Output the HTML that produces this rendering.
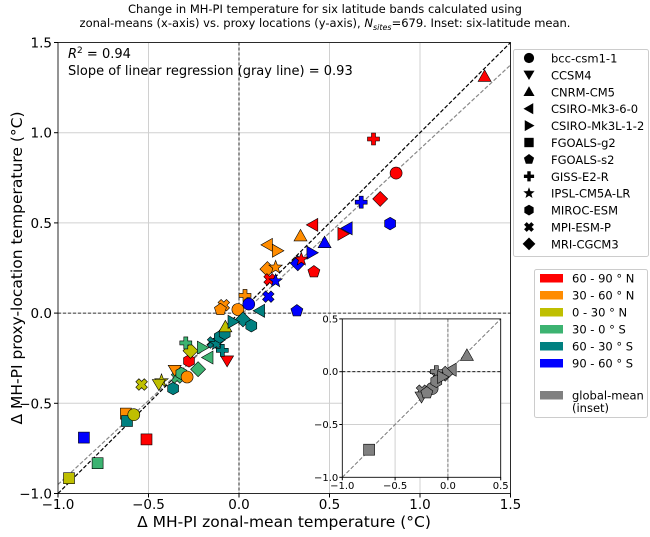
<!DOCTYPE html>
<html><head><meta charset="utf-8"><style>
body{margin:0;background:#fff}
svg text{font-family:"DejaVu Sans","Liberation Sans",sans-serif}
</style></head><body>
<svg id="c" width="650" height="532" viewBox="0 0 650 532" xmlns="http://www.w3.org/2000/svg">
<text x="325" y="13" font-size="11.5" text-anchor="middle">Change in MH-PI temperature for six latitude bands calculated using</text>
<text x="325" y="27" font-size="11.5" text-anchor="middle">zonal-means (x-axis) vs. proxy locations (y-axis), <tspan font-style="italic">N</tspan><tspan font-style="italic" font-size="8" dy="3">sites</tspan><tspan dy="-3">=679. Inset: six-latitude mean.</tspan></text>
<g id="main"></g>
<g id="inset"></g>
<g id="leg"></g>
</svg>
<script>
const NS="http://www.w3.org/2000/svg";
const modelNames=["bcc-csm1-1","CCSM4","CNRM-CM5","CSIRO-Mk3-6-0","CSIRO-Mk3L-1-2","FGOALS-g2","FGOALS-s2","GISS-E2-R","IPSL-CM5A-LR","MIROC-ESM","MPI-ESM-P","MRI-CGCM3"];
const bandNames=["60 - 90 \u00b0 N","30 - 60 \u00b0 N"," 0 - 30 \u00b0 N","30 -  0 \u00b0 S","60 - 30 \u00b0 S","90 - 60 \u00b0 S"];
const bandColors=["#ff0000","#ff8c00","#bfbf00","#3cb371","#008080","#0000ff"];
// main scatter: model index, band index, x, y
const ptModel=[2,7,0,11,7,9,3,3,4,2,2,3,4,4,11,8,11,8,6,10,8,7,10,0,10,6,0,3,6,11,9,
5,5,5,5,5,5,0,10,8,1,9,10,1,9,0,9,11,11,7,4,3,1,10,8,7,9,9,2,4];
const ptBand=[0,0,0,0,5,5,0,5,0,1,5,1,1,5,5,0,1,1,0,0,5,1,5,5,1,1,1,4,5,4,4,
5,0,3,2,1,4,2,2,2,2,4,3,1,3,1,0,3,2,3,3,3,0,4,4,4,4,4,2,4];
const ptX=[1.357,0.743,0.868,0.78,0.675,0.835,0.408,0.598,0.574,0.34,0.473,0.157,0.212,0.403,0.325,0.344,0.157,0.202,0.414,0.169,0.202,0.033,0.162,0.054,-0.084,-0.103,-0.006,0.114,0.32,0.022,0.068,
-0.857,-0.511,-0.781,-0.939,-0.625,-0.619,-0.581,-0.538,-0.428,-0.443,-0.364,-0.342,-0.355,-0.318,-0.287,-0.276,-0.226,-0.268,-0.294,-0.202,-0.171,-0.066,-0.143,-0.125,-0.092,-0.106,-0.079,-0.075,-0.033];
const ptY=[1.312,0.965,0.776,0.633,0.615,0.496,0.489,0.47,0.439,0.428,0.39,0.378,0.346,0.335,0.276,0.298,0.244,0.254,0.229,0.187,0.178,0.098,0.091,0.05,0.044,0.02,0.02,0.013,0.013,-0.035,-0.07,
-0.69,-0.7,-0.832,-0.915,-0.557,-0.598,-0.563,-0.396,-0.376,-0.396,-0.418,-0.357,-0.317,-0.335,-0.354,-0.265,-0.311,-0.209,-0.165,-0.191,-0.246,-0.265,-0.163,-0.17,-0.206,-0.132,-0.113,-0.076,-0.048];
// inset (global mean) per model
const inModel=[2,3,11,8,7,0,9,10,1,6,4,5];
const inX=[0.18,0.031,-0.026,-0.11,-0.11,-0.15,-0.11,-0.245,-0.25,-0.2,-0.05,-0.746];
const inY=[0.154,0.019,-0.019,-0.026,0.0,-0.16,-0.09,-0.18,-0.24,-0.2,-0.05,-0.739];
const ticks=[-1.0,-0.5,0.0,0.5,1.0,1.5];
const inTicks=[-1.0,-0.5,0.0,0.5];
const slope=0.93, intercept=-0.02;

function el(t,a,p){const e=document.createElementNS(NS,t);for(const k in a)e.setAttribute(k,a[k]);p.appendChild(e);return e;}
const X=v=>58+(v+1)*181;
const Y=v=>493.5-(v+1)*180.4;
const IX=v=>342.3+(v+1)*105.6;
const IY=v=>477.3-(v+1)*105.6;

function poly(n,r,rot){let s=[];for(let i=0;i<n;i++){const a=rot+i*2*Math.PI/n;s.push((r*Math.cos(a)).toFixed(2)+","+(r*Math.sin(a)).toFixed(2));}return s.join(" ");}
function star(r){let s=[];for(let i=0;i<10;i++){const rr=i%2?r*0.42:r;const a=-Math.PI/2+i*Math.PI/5;s.push((rr*Math.cos(a)).toFixed(2)+","+(rr*Math.sin(a)).toFixed(2));}return s.join(" ");}
function shape(m,k){
  switch(m){
    case 0:return['circle',{r:6*k}];
    case 1:return['polygon',{points:`0,${6*k} ${-6.5*k},${-5*k} ${6.5*k},${-5*k}`}];
    case 2:return['polygon',{points:`0,${-6.5*k} ${-6.5*k},${5*k} ${6.5*k},${5*k}`}];
    case 3:return['polygon',{points:`${-6.5*k},0 ${5*k},${-6.5*k} ${5*k},${6.5*k}`}];
    case 4:return['polygon',{points:`${6.5*k},0 ${-5*k},${-6.5*k} ${-5*k},${6.5*k}`}];
    case 5:return['rect',{x:-5.5*k,y:-5.5*k,width:11*k,height:11*k}];
    case 6:return['polygon',{points:poly(5,6.3*k,-Math.PI/2)}];
    case 7:{const a=2*k,b=6*k;return['polygon',{points:`${-a},${-b} ${a},${-b} ${a},${-a} ${b},${-a} ${b},${a} ${a},${a} ${a},${b} ${-a},${b} ${-a},${a} ${-b},${a} ${-b},${-a} ${-a},${-a}`}];}
    case 8:return['polygon',{points:star(7*k)}];
    case 9:return['polygon',{points:poly(6,6.3*k,-Math.PI/2)}];
    case 10:{const a=2.2*k,b=6*k;const p=[[-a,-b],[a,-b],[a,-a],[b,-a],[b,a],[a,a],[a,b],[-a,b],[-a,a],[-b,a],[-b,-a],[-a,-a]];const c=Math.SQRT1_2;return['polygon',{points:p.map(q=>((q[0]-q[1])*c).toFixed(2)+","+((q[0]+q[1])*c).toFixed(2)).join(" ")}];}
    case 11:return['polygon',{points:`0,${-7.5*k} ${7.5*k},0 0,${7.5*k} ${-7.5*k},0`}];
  }
}
function marker(m,cx,cy,fill,k,p,stroke){
  const [t,a]=shape(m,k);const g=el('g',{transform:`translate(${cx.toFixed(1)},${cy.toFixed(1)})`},p);
  a.fill=fill;a.stroke=stroke||'#000';a['stroke-width']=stroke==='none'?0:0.6;el(t,a,g);return g;
}

const main=document.getElementById('main');
ticks.forEach(t=>{
  const gx=el('line',{x1:X(t),x2:X(t),y1:Y(1.5),y2:Y(-1),stroke:'#d0d0d0','stroke-width':1},main);
  
  const gy=el('line',{x1:X(-1),x2:X(1.5),y1:Y(t),y2:Y(t),stroke:'#d0d0d0','stroke-width':1},main);
  
});
el('line',{x1:X(0),x2:X(0),y1:Y(1.5),y2:Y(-1),stroke:'#000','stroke-width':0.8,'stroke-dasharray':'3,2'},main);
el('line',{x1:X(-1),x2:X(1.5),y1:Y(0),y2:Y(0),stroke:'#000','stroke-width':0.8,'stroke-dasharray':'3,2'},main);
const oneone=el('line',{x1:X(-1),y1:Y(-1),x2:X(1.5),y2:Y(1.5),stroke:'#000','stroke-width':1.2,'stroke-dasharray':'4,2'},main);

const reg=el('line',{x1:X(-1),y1:Y(slope*-1+intercept),x2:X(1.5),y2:Y(slope*1.5+intercept),stroke:'#888','stroke-width':1.2,'stroke-dasharray':'4,2'},main);

for(let i=0;i<ptX.length;i++){
  const g=marker(ptModel[i],X(ptX[i]),Y(ptY[i]),bandColors[ptBand[i]],1,main);
  
  
}
const fr=el('rect',{x:X(-1),y:Y(1.5),width:X(1.5)-X(-1),height:Y(-1)-Y(1.5),fill:'none',stroke:'#000','stroke-width':0.8},main);

ticks.forEach(t=>{
  const s=t.toFixed(1).replace('-','\u2212');
  el('line',{x1:X(t),x2:X(t),y1:Y(-1),y2:Y(-1)+4,stroke:'#000'},main);
  const tx=el('text',{x:X(t),y:509,'font-size':13.5,'text-anchor':'middle'},main);tx.textContent=s;
  
  el('line',{x1:X(-1)-4,x2:X(-1),y1:Y(t),y2:Y(t),stroke:'#000'},main);
  const ty=el('text',{x:52,y:Y(t)+5,'font-size':13.5,'text-anchor':'end'},main);ty.textContent=s;
  
});
const xl=el('text',{x:284,y:527,'font-size':15.5,'text-anchor':'middle'},main);
xl.textContent='\u0394 MH-PI zonal-mean temperature (\u00b0C)';

const yl=el('text',{x:0,y:0,'font-size':15.5,'text-anchor':'middle',transform:'translate(22,268) rotate(-90)'},main);
yl.textContent='\u0394 MH-PI proxy-location temperature (\u00b0C)';

const r2=el('text',{x:68,y:58,'font-size':13},main);r2.innerHTML='<tspan font-style="italic">R</tspan><tspan font-size="9" dy="-5">2</tspan><tspan dy="5"> = 0.94</tspan>';

const sl=el('text',{x:68,y:75,'font-size':13},main);sl.textContent='Slope of linear regression (gray line) = 0.93';


const ins=document.getElementById('inset');
const ib=el('rect',{x:IX(-1),y:IY(0.5),width:IX(0.5)-IX(-1),height:IY(-1)-IY(0.5),fill:'#fff'},ins);

inTicks.forEach(t=>{
  el('line',{x1:IX(t),x2:IX(t),y1:IY(0.5),y2:IY(-1),stroke:'#d0d0d0'},ins);
  el('line',{x1:IX(-1),x2:IX(0.5),y1:IY(t),y2:IY(t),stroke:'#d0d0d0'},ins);
});
el('line',{x1:IX(0),x2:IX(0),y1:IY(0.5),y2:IY(-1),stroke:'#777','stroke-width':1,'stroke-dasharray':'3,2'},ins);
el('line',{x1:IX(-1),x2:IX(0.5),y1:IY(0),y2:IY(0),stroke:'#000','stroke-width':0.8,'stroke-dasharray':'3,2'},ins);
el('line',{x1:IX(-1),y1:IY(-1),x2:IX(0.5),y2:IY(0.5),stroke:'#777','stroke-width':1,'stroke-dasharray':'4,2'},ins);
for(let i=0;i<inX.length;i++){
  const g=marker(inModel[i],IX(inX[i]),IY(inY[i]),'#808080',1,ins);
  
  
}
const ifr=el('rect',{x:IX(-1),y:IY(0.5),width:IX(0.5)-IX(-1),height:IY(-1)-IY(0.5),fill:'none',stroke:'#000','stroke-width':0.8},ins);

inTicks.forEach(t=>{
  const s=t.toFixed(1).replace('-','\u2212');
  el('line',{x1:IX(t),x2:IX(t),y1:IY(-1),y2:IY(-1)+3,stroke:'#000'},ins);
  const tx=el('text',{x:IX(t),y:489,'font-size':10,'text-anchor':'middle'},ins);tx.textContent=s;
  
  el('line',{x1:IX(-1)-3,x2:IX(-1),y1:IY(t),y2:IY(t),stroke:'#000'},ins);
  const ty=el('text',{x:IX(-1)-4,y:IY(t)+3.5,'font-size':10,'text-anchor':'end'},ins);ty.textContent=s;
  
});

const lg=document.getElementById('leg');
const l1=el('rect',{x:513.5,y:49.5,width:135,height:207,fill:'#fff',stroke:'#ccc',rx:2},lg);

modelNames.forEach((n,i)=>{
  const y=58+i*16.9;
  const g=marker(i,529,y,'#000',0.85,lg,'none');
  
  const t=el('text',{x:551,y:y+4.5,'font-size':11.5},lg);t.textContent=n;
  
});
const l2=el('rect',{x:534.5,y:269.5,width:113,height:148,fill:'#fff',stroke:'#ccc',rx:2},lg);

bandNames.forEach((n,i)=>{
  const y=278+i*17;
  const r=el('rect',{x:540,y:y-4,width:23,height:8.5,fill:bandColors[i]},lg);
  
  const t=el('text',{x:572,y:y+4.5,'font-size':11.5,'xml:space':'preserve'},lg);t.textContent=n;
  
});
const gp=el('rect',{x:540,y:391,width:23,height:8.5,fill:'#808080'},lg);

const gt=el('text',{x:572,y:399.5,'font-size':11.5},lg);gt.textContent='global-mean';

const gt2=el('text',{x:572,y:412,'font-size':11.5},lg);gt2.textContent='(inset)';

</script>
</body></html>
